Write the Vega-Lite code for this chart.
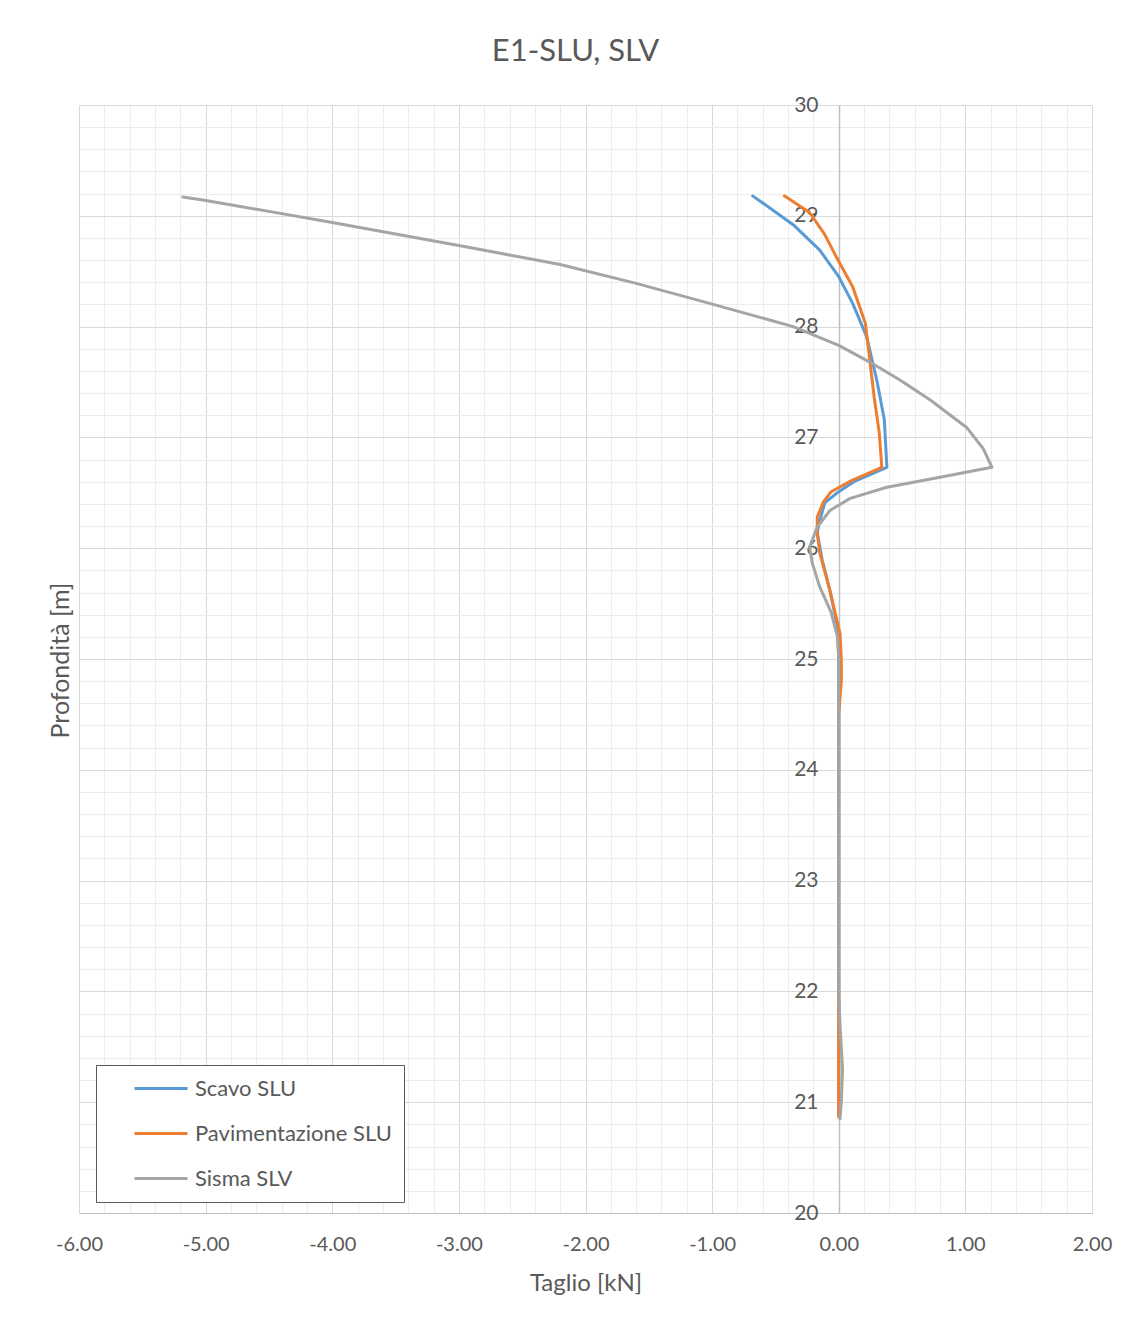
{
  "$schema": "https://vega.github.io/schema/vega-lite/v6.json",
  "width": 1013,
  "height": 1108,
  "autosize": {"type": "none"},
  "padding": {"left": 79, "top": 105, "right": 55, "bottom": 116},
  "background": "white",
  "title": {
    "text": "E1-SLU, SLV",
    "anchor": "middle",
    "frame": "group",
    "dx": -10,
    "offset": 26,
    "font": "Lato",
    "fontSize": 31,
    "fontWeight": "normal",
    "color": "#595959"
  },
  "config": {
    "view": {"stroke": "#D9D9D9", "strokeWidth": 1},
    "axis": {"labelFont": "Lato", "titleFont": "Lato", "labelColor": "#595959", "titleColor": "#595959", "titleFontWeight": "normal"}
  },
  "data": {
    "values": [
      {"s": "Scavo SLU", "d": 29.18, "v": -0.68},
      {"s": "Scavo SLU", "d": 29.10, "v": -0.58},
      {"s": "Scavo SLU", "d": 28.92, "v": -0.36},
      {"s": "Scavo SLU", "d": 28.69, "v": -0.15},
      {"s": "Scavo SLU", "d": 28.45, "v": 0.0},
      {"s": "Scavo SLU", "d": 28.21, "v": 0.11},
      {"s": "Scavo SLU", "d": 27.91, "v": 0.22},
      {"s": "Scavo SLU", "d": 27.52, "v": 0.30},
      {"s": "Scavo SLU", "d": 27.16, "v": 0.36},
      {"s": "Scavo SLU", "d": 26.73, "v": 0.38},
      {"s": "Scavo SLU", "d": 26.60, "v": 0.12},
      {"s": "Scavo SLU", "d": 26.51, "v": 0.0},
      {"s": "Scavo SLU", "d": 26.41, "v": -0.11},
      {"s": "Scavo SLU", "d": 26.25, "v": -0.15},
      {"s": "Scavo SLU", "d": 26.14, "v": -0.17},
      {"s": "Scavo SLU", "d": 25.89, "v": -0.13},
      {"s": "Scavo SLU", "d": 25.62, "v": -0.07},
      {"s": "Scavo SLU", "d": 25.29, "v": -0.01},
      {"s": "Scavo SLU", "d": 25.00, "v": 0.0},
      {"s": "Scavo SLU", "d": 24.00, "v": 0.0},
      {"s": "Scavo SLU", "d": 23.00, "v": 0.0},
      {"s": "Scavo SLU", "d": 22.00, "v": 0.0},
      {"s": "Scavo SLU", "d": 21.00, "v": 0.0},
      {"s": "Scavo SLU", "d": 20.87, "v": 0.0},
      {"s": "Pavimentazione SLU", "d": 29.18, "v": -0.43},
      {"s": "Pavimentazione SLU", "d": 29.03, "v": -0.23},
      {"s": "Pavimentazione SLU", "d": 28.83, "v": -0.11},
      {"s": "Pavimentazione SLU", "d": 28.63, "v": -0.02},
      {"s": "Pavimentazione SLU", "d": 28.36, "v": 0.11},
      {"s": "Pavimentazione SLU", "d": 28.03, "v": 0.21},
      {"s": "Pavimentazione SLU", "d": 27.70, "v": 0.245},
      {"s": "Pavimentazione SLU", "d": 27.36, "v": 0.28},
      {"s": "Pavimentazione SLU", "d": 27.04, "v": 0.32},
      {"s": "Pavimentazione SLU", "d": 26.73, "v": 0.34},
      {"s": "Pavimentazione SLU", "d": 26.61, "v": 0.10},
      {"s": "Pavimentazione SLU", "d": 26.51, "v": -0.06},
      {"s": "Pavimentazione SLU", "d": 26.42, "v": -0.12},
      {"s": "Pavimentazione SLU", "d": 26.28, "v": -0.17},
      {"s": "Pavimentazione SLU", "d": 26.14, "v": -0.17},
      {"s": "Pavimentazione SLU", "d": 25.96, "v": -0.15},
      {"s": "Pavimentazione SLU", "d": 25.62, "v": -0.07},
      {"s": "Pavimentazione SLU", "d": 25.23, "v": 0.01},
      {"s": "Pavimentazione SLU", "d": 25.00, "v": 0.02},
      {"s": "Pavimentazione SLU", "d": 24.80, "v": 0.02},
      {"s": "Pavimentazione SLU", "d": 24.50, "v": 0.0},
      {"s": "Pavimentazione SLU", "d": 23.00, "v": 0.0},
      {"s": "Pavimentazione SLU", "d": 22.00, "v": 0.0},
      {"s": "Pavimentazione SLU", "d": 21.00, "v": 0.0},
      {"s": "Pavimentazione SLU", "d": 20.87, "v": 0.0},
      {"s": "Sisma SLV", "d": 29.17, "v": -5.18},
      {"s": "Sisma SLV", "d": 29.14, "v": -5.01},
      {"s": "Sisma SLV", "d": 29.04, "v": -4.50},
      {"s": "Sisma SLV", "d": 28.94, "v": -4.00},
      {"s": "Sisma SLV", "d": 28.73, "v": -2.99},
      {"s": "Sisma SLV", "d": 28.56, "v": -2.20},
      {"s": "Sisma SLV", "d": 28.39, "v": -1.60},
      {"s": "Sisma SLV", "d": 28.21, "v": -1.02},
      {"s": "Sisma SLV", "d": 28.00, "v": -0.36},
      {"s": "Sisma SLV", "d": 27.83, "v": 0.0},
      {"s": "Sisma SLV", "d": 27.68, "v": 0.245},
      {"s": "Sisma SLV", "d": 27.52, "v": 0.48},
      {"s": "Sisma SLV", "d": 27.34, "v": 0.72},
      {"s": "Sisma SLV", "d": 27.09, "v": 1.01},
      {"s": "Sisma SLV", "d": 26.90, "v": 1.14},
      {"s": "Sisma SLV", "d": 26.73, "v": 1.21},
      {"s": "Sisma SLV", "d": 26.64, "v": 0.80},
      {"s": "Sisma SLV", "d": 26.55, "v": 0.38},
      {"s": "Sisma SLV", "d": 26.45, "v": 0.09},
      {"s": "Sisma SLV", "d": 26.34, "v": -0.07},
      {"s": "Sisma SLV", "d": 26.19, "v": -0.17},
      {"s": "Sisma SLV", "d": 26.01, "v": -0.23},
      {"s": "Sisma SLV", "d": 25.87, "v": -0.21},
      {"s": "Sisma SLV", "d": 25.65, "v": -0.15},
      {"s": "Sisma SLV", "d": 25.42, "v": -0.06},
      {"s": "Sisma SLV", "d": 25.20, "v": -0.01},
      {"s": "Sisma SLV", "d": 25.00, "v": 0.0},
      {"s": "Sisma SLV", "d": 24.00, "v": 0.0},
      {"s": "Sisma SLV", "d": 23.00, "v": 0.0},
      {"s": "Sisma SLV", "d": 22.00, "v": 0.0},
      {"s": "Sisma SLV", "d": 21.70, "v": 0.01},
      {"s": "Sisma SLV", "d": 21.30, "v": 0.03},
      {"s": "Sisma SLV", "d": 21.00, "v": 0.02},
      {"s": "Sisma SLV", "d": 20.85, "v": 0.01}
    ]
  },
  "layer": [
    {
      "mark": {"type": "line", "strokeOpacity": 0},
      "encoding": {
        "x": {
          "field": "v", "type": "quantitative",
          "scale": {"domain": [-6, 2], "nice": false, "zero": false},
          "axis": {
            "orient": "bottom", "title": null, "labels": false, "ticks": false, "domain": false,
            "grid": true, "gridColor": "#ECECEC", "gridWidth": 1,
            "values": [-6, -5.8, -5.6, -5.4, -5.2, -5, -4.8, -4.6, -4.4, -4.2, -4, -3.8, -3.6, -3.4, -3.2, -3, -2.8, -2.6, -2.4, -2.2, -2, -1.8, -1.6, -1.4, -1.2, -1, -0.8, -0.6, -0.4, -0.2, 0, 0.2, 0.4, 0.6, 0.8, 1, 1.2, 1.4, 1.6, 1.8, 2]
          }
        },
        "y": {
          "field": "d", "type": "quantitative",
          "scale": {"domain": [20, 30], "nice": false, "zero": false},
          "axis": {
            "orient": "left", "title": null, "labels": false, "ticks": false, "domain": false,
            "grid": true, "gridColor": "#ECECEC", "gridWidth": 1,
            "values": [20, 20.2, 20.4, 20.6, 20.8, 21, 21.2, 21.4, 21.6, 21.8, 22, 22.2, 22.4, 22.6, 22.8, 23, 23.2, 23.4, 23.6, 23.8, 24, 24.2, 24.4, 24.6, 24.8, 25, 25.2, 25.4, 25.6, 25.8, 26, 26.2, 26.4, 26.6, 26.8, 27, 27.2, 27.4, 27.6, 27.8, 28, 28.2, 28.4, 28.6, 28.8, 29, 29.2, 29.4, 29.6, 29.8, 30]
          }
        }
      }
    },
    {
      "mark": {"type": "line", "strokeWidth": 3, "strokeCap": "round", "strokeJoin": "round"},
      "encoding": {
        "x": {
          "field": "v", "type": "quantitative",
          "axis": {
            "orient": "bottom", "title": "Taglio [kN]", "format": ".2f",
            "labelExpr": "replace(datum.label, '−', '-')",
            "values": [-6, -5, -4, -3, -2, -1, 0, 1, 2],
            "grid": true, "gridColor": "#D9D9D9", "gridWidth": 1,
            "ticks": false, "tickSize": 0, "domain": true, "domainColor": "#BFBFBF", "domainWidth": 1,
            "labelFontSize": 20, "labelPadding": 21, "labelFlush": false,
            "titleFontSize": 24, "titleY": 70, "titleBaseline": "middle"
          }
        },
        "y": {
          "field": "d", "type": "quantitative",
          "axis": {
            "orient": "left", "title": "Profondità [m]", "format": "d",
            "values": [20, 21, 22, 23, 24, 25, 26, 27, 28, 29, 30],
            "grid": true, "gridColor": "#D9D9D9", "gridWidth": 1,
            "offset": -760,
            "ticks": false, "tickSize": 0, "domain": true, "domainColor": "#BFBFBF", "domainWidth": 1.5,
            "labelFontSize": 21, "labelPadding": 21, "labelBaseline": "middle",
            "titleFontSize": 25, "titleX": -779, "titleY": 555, "titleBaseline": "middle", "titleAngle": -90
          }
        },
        "color": {
          "field": "s", "type": "nominal",
          "scale": {"domain": ["Scavo SLU", "Pavimentazione SLU", "Sisma SLV"], "range": ["#5B9BD5", "#ED7D31", "#A5A5A5"]},
          "legend": {
            "title": null, "orient": "none", "legendX": 17, "legendY": 960,
            "strokeColor": "#595959", "fillColor": "white",
            "padding": 12, "symbolOffset": 25, "clipHeight": 23,
            "symbolType": "stroke", "symbolSize": 2809, "symbolStrokeWidth": 3,
            "labelFont": "Lato", "labelFontSize": 22, "labelColor": "#595959", "labelOffset": 6,
            "rowPadding": 22, "labelLimit": 400
          }
        },
        "order": {"field": "d", "sort": "descending"}
      }
    }
  ],
  "resolve": {"axis": {"x": "independent", "y": "independent"}}
}
